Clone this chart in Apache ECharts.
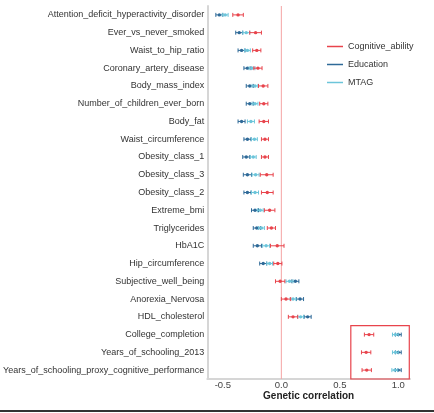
<!DOCTYPE html>
<html>
<head>
<meta charset="utf-8">
<script src="https://cdn.jsdelivr.net/npm/echarts@6/dist/echarts.min.js"></script>
<style>
  html, body { margin: 0; padding: 0; background: #fff; }
  #main { width: 434px; height: 413px; }
</style>
</head>
<body>
<div id="main"></div>
<script>
var categories = [
  'Attention_deficit_hyperactivity_disorder', 'Ever_vs_never_smoked', 'Waist_to_hip_ratio',
  'Coronary_artery_disease', 'Body_mass_index', 'Number_of_children_ever_born', 'Body_fat',
  'Waist_circumference', 'Obesity_class_1', 'Obesity_class_3', 'Obesity_class_2', 'Extreme_bmi',
  'Triglycerides', 'HbA1C', 'Hip_circumference', 'Subjective_well_being', 'Anorexia_Nervosa',
  'HDL_cholesterol', 'College_completion', 'Years_of_schooling_2013',
  'Years_of_schooling_proxy_cognitive_performance'
];
var seriesNames = ['Cognitive_ability', 'Education', 'MTAG'];

// point estimates
var cogValues  = [-0.37, -0.22, -0.21, -0.20, -0.155, -0.15, -0.15, -0.14, -0.14, -0.125, -0.12, -0.10, -0.085, -0.035, -0.03, -0.01, 0.04, 0.10, 0.75, 0.725, 0.73];
var eduValues  = [-0.53, -0.36, -0.34, -0.29, -0.27, -0.27, -0.34, -0.29, -0.30, -0.29, -0.29, -0.225, -0.21, -0.205, -0.155, 0.12, 0.16, 0.225, 1.0, 1.0, 1.0];
var mtagValues = [-0.48, -0.30, -0.29, -0.25, -0.225, -0.225, -0.26, -0.23, -0.24, -0.22, -0.225, -0.18, -0.17, -0.13, -0.10, 0.07, 0.10, 0.165, 0.975, 0.975, 0.97];

// half widths of the error bars
var cogErr  = [0.045, 0.05, 0.035, 0.035, 0.04, 0.035, 0.04, 0.03, 0.03, 0.055, 0.05, 0.045, 0.035, 0.058, 0.035, 0.04, 0.04, 0.04, 0.04, 0.04, 0.04];
var eduErr  = [0.03, 0.03, 0.03, 0.03, 0.03, 0.03, 0.03, 0.03, 0.03, 0.035, 0.03, 0.03, 0.03, 0.035, 0.03, 0.03, 0.03, 0.03, 0.025, 0.025, 0.025];
var mtagErr = [0.025, 0.03, 0.025, 0.025, 0.025, 0.025, 0.03, 0.025, 0.025, 0.03, 0.03, 0.025, 0.025, 0.03, 0.025, 0.03, 0.025, 0.025, 0.025, 0.025, 0.025];

var xTicks = [-0.5, 0, 0.5, 1.0];
var refLine = [[0]];
var highlightBox = [[0.594, 1.094, 18, 20]]; // x from, x to, first row, last row

var colors = ['#e8444c', '#2f6a98', '#6cc5da'];

function makeData(vals, errs) {
  var out = [];
  for (var i = 0; i < vals.length; i++) {
    out.push([vals[i], i, vals[i] - errs[i], vals[i] + errs[i]]);
  }
  return out;
}

function renderBar(params, api) {
  var idx = api.value(1);
  var c = api.coord([api.value(0), idx]);
  var l = api.coord([api.value(2), idx]);
  var h = api.coord([api.value(3), idx]);
  var color = api.visual('color');
  var cap = 2;
  var st = { stroke: color, lineWidth: 1 };
  return {
    type: 'group',
    children: [
      { type: 'line', shape: { x1: l[0], y1: c[1], x2: h[0], y2: c[1] }, style: st },
      { type: 'line', shape: { x1: l[0], y1: c[1] - cap, x2: l[0], y2: c[1] + cap }, style: st },
      { type: 'line', shape: { x1: h[0], y1: c[1] - cap, x2: h[0], y2: c[1] + cap }, style: st },
      { type: 'circle', shape: { cx: c[0], cy: c[1], r: 1.7 }, style: { fill: color } }
    ]
  };
}

function renderRef(params, api) {
  var x = api.coord([api.value(0), 0])[0];
  var cs = params.coordSys;
  return {
    type: 'line',
    shape: { x1: x, y1: cs.y, x2: x, y2: cs.y + cs.height },
    style: { stroke: '#f4a3a3', lineWidth: 1 }
  };
}

function renderBox(params, api) {
  var a = api.coord([api.value(0), api.value(2)]);
  var b = api.coord([api.value(1), api.value(3)]);
  var band = api.size([0, 1])[1];
  return {
    type: 'rect',
    shape: { x: a[0], y: a[1] - band / 2, width: b[0] - a[0], height: b[1] - a[1] + band },
    style: { fill: 'none', stroke: '#e8444c', lineWidth: 1.2 }
  };
}

var chart = echarts.init(document.getElementById('main'));
var option = {
  animation: false,
  color: colors,
  grid: { left: 201, top: 6, right: 24, bottom: 34, containLabel: false },
  legend: {
    orient: 'vertical',
    left: 322,
    top: 37,
    icon: 'rect',
    itemWidth: 16,
    itemHeight: 1.5,
    itemGap: 9,
    textStyle: { fontFamily: 'Liberation Sans', fontSize: 9, color: '#333' },
    data: seriesNames
  },
  xAxis: {
    type: 'value',
    min: -0.633,
    max: 1.1,
    name: 'Genetic correlation',
    nameLocation: 'middle',
    nameGap: 12,
    nameMoveOverlap: false,
    nameTextStyle: { fontFamily: 'Liberation Sans', fontSize: 10, fontWeight: 'bold', color: '#222' },
    axisLine: { show: true, onZero: false, lineStyle: { color: '#d6d6d6', width: 2 } },
    axisTick: { show: false },
    axisLabel: {
      customValues: xTicks,
      margin: 1,
      fontFamily: 'Liberation Sans',
      fontSize: 9.5,
      color: '#444',
      formatter: function (v) { return v.toFixed(1); }
    },
    splitLine: { show: false }
  },
  yAxis: {
    type: 'category',
    inverse: true,
    data: categories,
    axisLine: { show: true, onZero: false, lineStyle: { color: '#d6d6d6', width: 2 } },
    axisTick: { show: false },
    axisLabel: { margin: 3, fontFamily: 'Liberation Sans', fontSize: 9, color: '#333' },
    splitLine: { show: false }
  },
  series: [
    {
      name: 'zero', type: 'custom', renderItem: renderRef, silent: true,
      encode: { x: 0 }, data: refLine, z: 1
    },
    {
      name: 'Education', type: 'custom', renderItem: renderBar,
      itemStyle: { color: colors[1] },
      encode: { x: 0, y: 1 }, data: makeData(eduValues, eduErr), z: 3
    },
    {
      name: 'MTAG', type: 'custom', renderItem: renderBar,
      itemStyle: { color: colors[2] },
      encode: { x: 0, y: 1 }, data: makeData(mtagValues, mtagErr), z: 4
    },
    {
      name: 'Cognitive_ability', type: 'custom', renderItem: renderBar,
      itemStyle: { color: colors[0] },
      encode: { x: 0, y: 1 }, data: makeData(cogValues, cogErr), z: 5
    },
    {
      name: 'box', type: 'custom', renderItem: renderBox, silent: true,
      encode: { x: [0, 1], y: [2, 3] }, data: highlightBox, z: 6
    }
  ],
  graphic: [{
    type: 'rect', left: 0, top: 410,
    shape: { width: 434, height: 2 },
    style: { fill: '#333' }
  }]
};
chart.setOption(option);
</script>
</body>
</html>
